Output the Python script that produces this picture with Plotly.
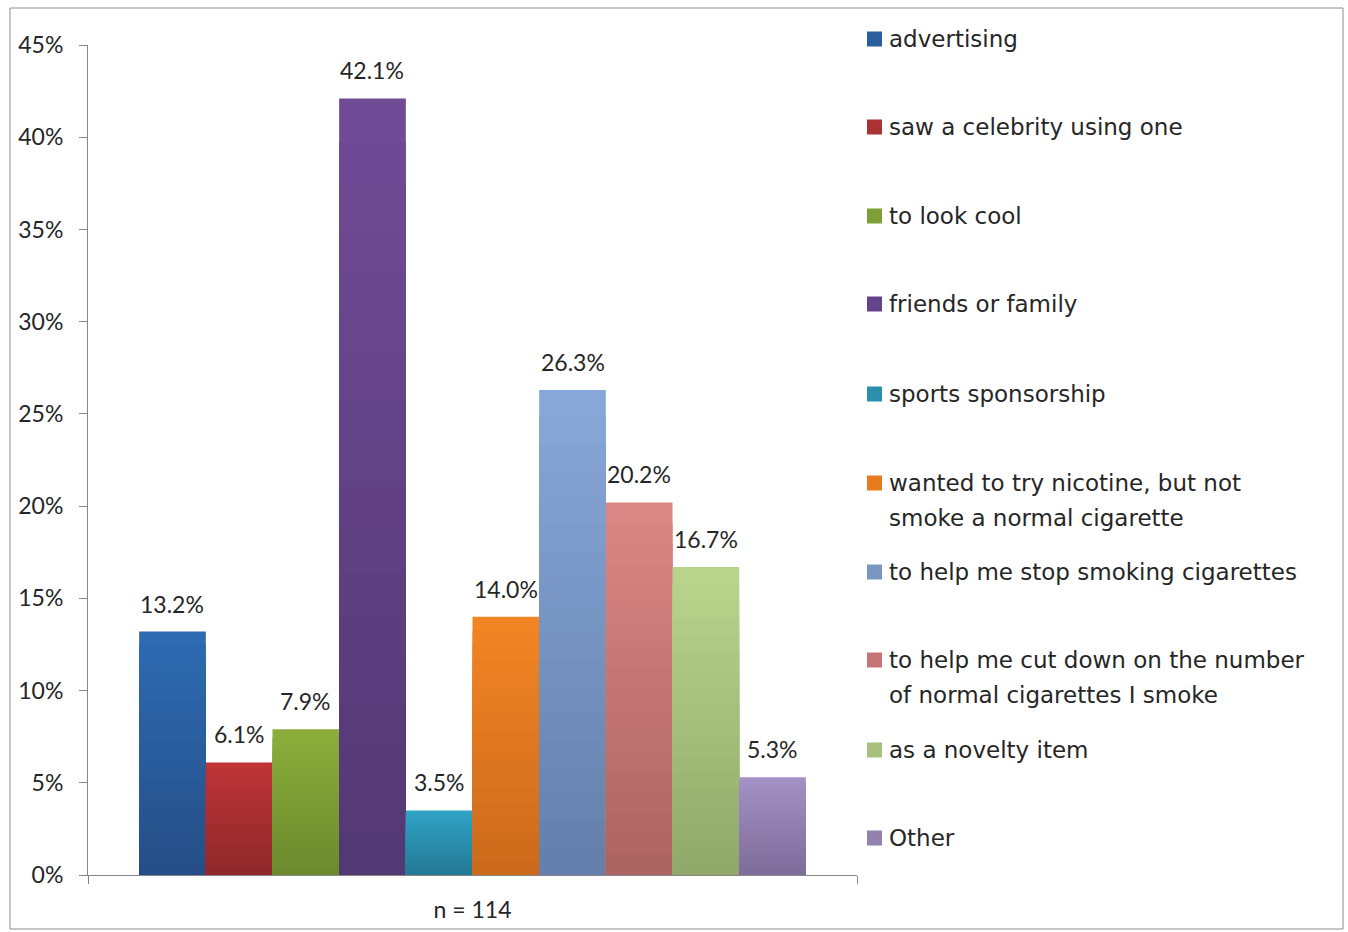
import plotly.graph_objects as go

# Survey: reasons for first trying an e-cigarette (n = 114)
category = ["n = 114"]
reasons = [
    "advertising",
    "saw a celebrity using one",
    "to look cool",
    "friends or family",
    "sports sponsorship",
    "wanted to try nicotine, but not smoke a normal cigarette",
    "to help me stop smoking cigarettes",
    "to help me cut down on the number of normal cigarettes I smoke",
    "as a novelty item",
    "Other",
]
legend_lines = [
    ["advertising"],
    ["saw a celebrity using one"],
    ["to look cool"],
    ["friends or family"],
    ["sports sponsorship"],
    ["wanted to try nicotine, but not", "smoke a normal cigarette"],
    ["to help me stop smoking cigarettes"],
    ["to help me cut down on the number", "of normal cigarettes I smoke"],
    ["as a novelty item"],
    ["Other"],
]
shares = [0.132, 0.061, 0.079, 0.421, 0.035, 0.140, 0.263, 0.202, 0.167, 0.053]
# light (top) and dark (bottom) end of each bar's vertical gradient
top_colors = ["#2E6BB2", "#BE3437", "#8AAD3B", "#704B96", "#30A2C4",
              "#F28524", "#87A7D8", "#DA8684", "#B8D48C", "#A390C4"]
bottom_colors = ["#254E88", "#8F282A", "#6C8B2E", "#533974", "#237A96",
                 "#CC6A1C", "#6580AC", "#AC6463", "#91A96A", "#7F6D9C"]
legend_colors = ["#2A5E9F", "#AA3134", "#7E9F35", "#634389", "#2A8FAF",
                 "#E67B20", "#7895C4", "#C67574", "#A7C17C", "#9381B0"]

FONT = "Lato"
LEGEND_FONT = "DejaVu Sans"
TXT = "#262626"
AXIS = "#868686"

W, H = 1348, 932
L, R, T, B = 88, 491, 45, 57
PW, PH = W - L - R, H - T - B
BARGAP = 0.133
SHADES = 18


def px_x(x):
    return (x - L) / PW


def px_y(y):
    return (H - B - y) / PH


def mix(c1, c2, t):
    a = [int(c1[i:i + 2], 16) for i in (1, 3, 5)]
    b = [int(c2[i:i + 2], 16) for i in (1, 3, 5)]
    return "rgb({},{},{})".format(*[round(x + (y - x) * t) for x, y in zip(a, b)])


fig = go.Figure()
for i, (name, val, c_top, c_bot) in enumerate(zip(reasons, shares, top_colors, bottom_colors)):
    # the full-height bar first, then progressively shorter and darker layers on
    # top of it in the same slot, giving a light-to-dark fill from top to bottom
    for k in range(SHADES):
        fig.add_trace(go.Bar(
            x=category, y=[val * (SHADES - k) / SHADES], name=name,
            offsetgroup=str(i), legendgroup=name,
            marker=dict(color=mix(c_top, c_bot, k / (SHADES - 1)), line=dict(width=0)),
            hoverinfo="skip" if k else None,
            showlegend=False))

annotations = []
shapes = []

# value labels above each bar
bar_w = PW * (1 - BARGAP) / len(shares)
for i, val in enumerate(shares):
    annotations.append(dict(
        x=category[0], y=val, xref="x", yref="y",
        xshift=(i - (len(shares) - 1) / 2) * bar_w, yshift=28,
        text=f"{val * 100:.1f}%", showarrow=False,
        xanchor="center", yanchor="middle",
        font=dict(family=FONT, size=23, color=TXT)))

# legend column on the right
row_y = [39, 127, 216, 304, 394, 483, 572, 660, 750, 838]
line_step = 35
for lines, col, y0 in zip(legend_lines, legend_colors, row_y):
    shapes.append(dict(type="rect", xref="paper", yref="paper",
                       x0=px_x(867), x1=px_x(882), y0=px_y(y0 - 7.5), y1=px_y(y0 + 7.5),
                       fillcolor=col, line=dict(width=0)))
    for k, line in enumerate(lines):
        annotations.append(dict(
            x=px_x(887), y=px_y(y0 + k * line_step), xref="paper", yref="paper",
            text=line, showarrow=False, xanchor="left", yanchor="middle",
            font=dict(family=LEGEND_FONT, size=23, color=TXT)))

# chart frame
shapes.append(dict(type="rect", xref="paper", yref="paper",
                   x0=px_x(10), x1=px_x(1343), y0=px_y(929), y1=px_y(8),
                   line=dict(color="#8C8C8C", width=1), fillcolor="rgba(0,0,0,0)",
                   layer="below"))

fig.update_layout(
    width=W, height=H,
    margin=dict(l=L, r=R, t=T, b=B, pad=0),
    paper_bgcolor="white", plot_bgcolor="white",
    barmode="group", bargap=BARGAP, bargroupgap=0,
    font=dict(family=FONT, size=23, color=TXT),
    annotations=annotations, shapes=shapes,
    showlegend=False,
)
fig.update_yaxes(range=[0, 0.45], tickvals=[i * 0.05 for i in range(10)],
                 tickformat=".0%", showgrid=False, zeroline=False,
                 showline=True, linecolor=AXIS, linewidth=1,
                 ticks="outside", ticklen=8, tickcolor=AXIS, ticklabelstandoff=11,
                 automargin=False,
                 tickfont=dict(family=FONT, size=23, color=TXT))
fig.update_xaxes(showgrid=False, showline=True, linecolor=AXIS, linewidth=1,
                 ticks="outside", ticklen=8, tickcolor=AXIS, tickson="boundaries",
                 ticklabelstandoff=14, automargin=False,
                 tickfont=dict(family=FONT, size=23, color=TXT))

fig.write_html("out.html")
